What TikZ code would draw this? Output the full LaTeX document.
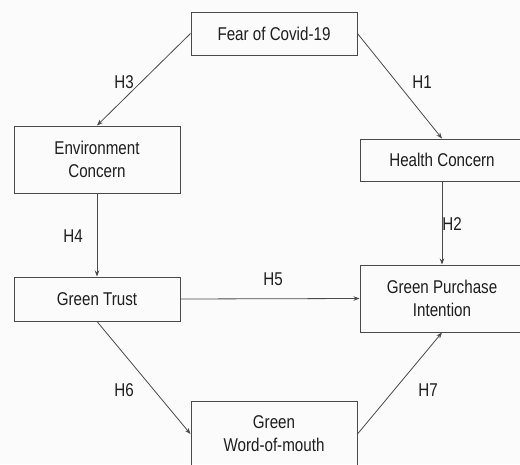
\documentclass[tikz,border=0pt]{standalone}
\usepackage{fontspec}
\setmainfont{Liberation Sans}[FakeStretch=0.82]
\usetikzlibrary{arrows.meta}
\definecolor{linec}{HTML}{4A4A4A}
\definecolor{textc}{HTML}{1E1E1E}
\definecolor{bgc}{HTML}{FBFBFB}
\tikzset{
  box/.style={draw=linec, line width=1pt, rectangle, align=center, text=textc,
    font=\fontsize{18.5}{23}\selectfont, inner sep=0pt},
  conn/.style={draw=linec, line width=0.8pt, -{Stealth[length=6pt,width=4.5pt]}},
  hlab/.style={text=textc, font=\fontsize{18.5}{22}\selectfont, inner sep=0pt}
}
\begin{document}
\begin{tikzpicture}[x=1pt,y=-1pt]
\fill[bgc] (0,0) rectangle (520,464);
\useasboundingbox (0,0) rectangle (520,464);
\node[box, minimum width=166pt, minimum height=43pt] (fear) at (274,33.5) {Fear of Covid-19};
\node[box, minimum width=166pt, minimum height=67pt] (env) at (97,159.5) {Environment\\Concern};
\node[box, minimum width=164pt, minimum height=42pt] (health) at (442,160) {Health Concern};
\node[box, minimum width=166pt, minimum height=44pt] (trust) at (97,299) {Green Trust};
\node[box, minimum width=164pt, minimum height=67pt] (gpi) at (442,298.5) {Green Purchase\\Intention};
\node[box, minimum width=166pt, minimum height=66pt] (gwom) at (274,434) {Green\\Word-of-mouth};
\draw[conn] (fear.west) -- (env.north);
\draw[conn] (fear.east) -- (health.north);
\draw[conn] (env.south) -- (trust.north);
\draw[conn] (health.south) -- (gpi.north);
\draw[conn] (trust.east) -- (gpi.west);
\draw[conn] (trust.south) -- (gwom.west);
\draw[conn] (gwom.east) -- (gpi.south);
\node[hlab] (h3) at (124,82) {H3};
\node[hlab] (h1) at (422,82) {H1};
\node[hlab] (h4) at (73,236) {H4};
\node[hlab] (h2) at (452,224) {H2};
\node[hlab] (h5) at (273,279) {H5};
\node[hlab] (h6) at (124,390) {H6};
\node[hlab] (h7) at (428,390) {H7};
\end{tikzpicture}
\end{document}
